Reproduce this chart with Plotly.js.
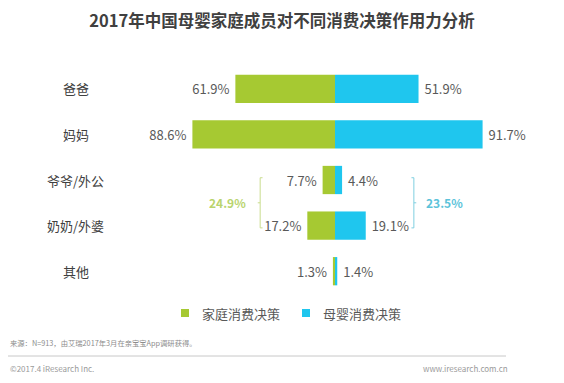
<!DOCTYPE html>
<html>
<head>
<meta charset="utf-8">
<script src="https://cdn.plot.ly/plotly-3.0.1.min.js"></script>
<style>html,body{margin:0;padding:0;background:#fff;}#chart{width:564px;height:383px;}</style>
</head>
<body>
<div id="chart"></div>
<script>
var categories = ['爸爸', '妈妈', '爷爷/外公', '奶奶/外婆', '其他'];
var familyDecision = [61.9, 88.6, 7.7, 17.2, 1.3];
var maternalDecision = [51.9, 91.7, 4.4, 19.1, 1.4];
var seriesNames = ['家庭消费决策', '母婴消费决策'];
var grandparentTotals = [24.9, 23.5];

var GREEN = '#a6c932';
var BLUE = '#1fc6ee';
var FONT = 'Noto Sans CJK SC, Microsoft YaHei, sans-serif';

var W = 564, H = 383;
var M = {l: 166, r: 60, t: 66, b: 89};
var PW = W - M.l - M.r, PH = H - M.t - M.b;
function px(x) { return (x - M.l) / PW; }
function py(y) { return (H - M.b - y) / PH; }

var traces = [
  {
    type: 'bar', orientation: 'h', name: seriesNames[0],
    y: categories, x: familyDecision.map(function(v){return -v;}),
    marker: {color: GREEN, line: {width: 0}},
    text: familyDecision.map(function(v){return v.toFixed(1) + '%\u00a0';}),
    textposition: 'outside', textangle: 0, constraintext: 'none', cliponaxis: false,
    textfont: {family: FONT, size: 13, color: '#595959'},
    hoverinfo: 'none'
  },
  {
    type: 'bar', orientation: 'h', name: seriesNames[1],
    y: categories, x: maternalDecision,
    marker: {color: BLUE, line: {width: 0}},
    text: maternalDecision.map(function(v){return '\u00a0' + v.toFixed(1) + '%';}),
    textposition: 'outside', textangle: 0, constraintext: 'none', cliponaxis: false,
    textfont: {family: FONT, size: 13, color: '#595959'},
    hoverinfo: 'none'
  }
];

var annotations = categories.map(function(c){
  return {xref: 'paper', yref: 'y', x: px(76), y: c, text: c, showarrow: false,
    xanchor: 'center', yanchor: 'middle', font: {family: FONT, size: 13, color: '#404040'}};
});

// bracket positions (row index units)
var yTop = 1.95, yBot = 3.05, yMid = 2.5;
var gx = -46.5, bx = 49;
annotations.push({xref: 'x', yref: 'y', x: -54, y: yMid, text: '<b>' + grandparentTotals[0].toFixed(1) + '%</b>',
  showarrow: false, xanchor: 'right', yanchor: 'middle', font: {family: FONT, size: 12, color: '#b9d46e'}});
annotations.push({xref: 'x', yref: 'y', x: 55.5, y: yMid, text: '<b>' + grandparentTotals[1].toFixed(1) + '%</b>',
  showarrow: false, xanchor: 'left', yanchor: 'middle', font: {family: FONT, size: 12, color: '#5cc3da'}});

// legend (custom, small squares)
var legendX = [185, 306];
var legendColors = [GREEN, BLUE];
var legendY = 313;
seriesNames.forEach(function(n, i){
  annotations.push({xref: 'paper', yref: 'paper', x: px(legendX[i] + 15), y: py(legendY), text: n,
    showarrow: false, xanchor: 'left', yanchor: 'middle', font: {family: FONT, size: 13, color: '#595959'}});
});

annotations.push({xref: 'paper', yref: 'paper', x: px(8), y: py(343), text: '来源：N=913，由艾瑞2017年3月在亲宝宝App调研获得。',
  showarrow: false, xanchor: 'left', yanchor: 'middle', font: {family: FONT, size: 7.3, color: '#8c8c8c'}});
annotations.push({xref: 'paper', yref: 'paper', x: px(8), y: py(368), text: '©2017.4 iResearch Inc.',
  showarrow: false, xanchor: 'left', yanchor: 'middle', font: {family: FONT, size: 8, color: '#9a9a9a'}});
annotations.push({xref: 'paper', yref: 'paper', x: px(510), y: py(368), text: 'www.iresearch.com.cn',
  showarrow: false, xanchor: 'right', yanchor: 'middle', font: {family: FONT, size: 8, color: '#9a9a9a'}});

var gLine = {color: '#c9dc8e', width: 1};
var bLine = {color: '#7fcfe0', width: 1};
var shapes = [
  {type: 'line', xref: 'x', yref: 'y', x0: gx, x1: gx, y0: yTop, y1: yBot, line: gLine},
  {type: 'line', xref: 'x', yref: 'y', x0: gx, x1: gx + 1.5, y0: yTop, y1: yTop, line: gLine},
  {type: 'line', xref: 'x', yref: 'y', x0: gx, x1: gx + 1.5, y0: yBot, y1: yBot, line: gLine},
  {type: 'line', xref: 'x', yref: 'y', x0: gx - 1.5, x1: gx, y0: yMid, y1: yMid, line: gLine},
  {type: 'line', xref: 'x', yref: 'y', x0: bx, x1: bx, y0: yTop, y1: yBot, line: bLine},
  {type: 'line', xref: 'x', yref: 'y', x0: bx - 1.5, x1: bx, y0: yTop, y1: yTop, line: bLine},
  {type: 'line', xref: 'x', yref: 'y', x0: bx - 1.5, x1: bx, y0: yBot, y1: yBot, line: bLine},
  {type: 'line', xref: 'x', yref: 'y', x0: bx, x1: bx + 1.5, y0: yMid, y1: yMid, line: bLine},
  {type: 'line', xref: 'paper', yref: 'paper', x0: px(8), x1: px(506), y0: py(356), y1: py(356), line: {color: '#c8c8c8', width: 1}}
];
legendX.forEach(function(x, i){
  shapes.push({type: 'rect', xref: 'paper', yref: 'paper', x0: px(x - 4), x1: px(x + 4),
    y0: py(legendY + 4), y1: py(legendY - 4), fillcolor: legendColors[i], line: {width: 0}});
});

var layout = {
  width: W, height: H,
  margin: M,
  paper_bgcolor: '#fff', plot_bgcolor: '#fff',
  font: {family: FONT, color: '#595959'},
  title: {text: '<b>2017年中国母婴家庭成员对不同消费决策作用力分析</b>', x: 0.5, xanchor: 'center',
    y: 1 - 21 / H, yanchor: 'middle', yref: 'container',
    font: {family: FONT, size: 16.5, color: '#404040'}},
  barmode: 'relative', bargap: 0.38,
  xaxis: {range: [-105, 105], visible: false, fixedrange: true},
  yaxis: {type: 'category', autorange: 'reversed', showticklabels: false, showgrid: false,
    zeroline: false, showline: false, ticks: '', fixedrange: true},
  showlegend: false,
  annotations: annotations,
  shapes: shapes
};

Plotly.newPlot('chart', traces, layout, {displayModeBar: false, staticPlot: true});
</script>
</body>
</html>
